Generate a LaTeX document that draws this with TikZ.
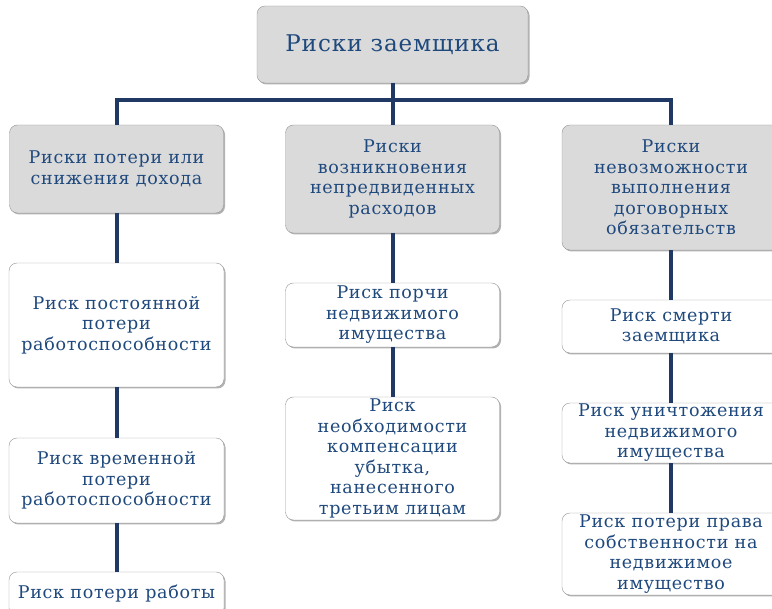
\documentclass[tikz,border=0pt]{standalone}
\usepackage{fontspec}
\setmainfont{DejaVu Serif}[LetterSpace=4]
\usetikzlibrary{shadows}
\definecolor{mblue}{RGB}{31,73,125}
\definecolor{mnavy}{RGB}{31,56,100}
\definecolor{mgray}{RGB}{218,218,218}
\definecolor{mborder}{RGB}{150,150,150}

\begin{document}
\begin{tikzpicture}[x=1pt, y=-1pt,
    box/.style={rectangle, rounded corners=8pt, draw=mborder, fill=white, text=mblue,
        align=center, inner sep=1pt, font=\fontsize{17.5pt}{20.5pt}\selectfont,
        drop shadow={shadow xshift=1.5pt, shadow yshift=-1.5pt, opacity=0.3, fill=black}},
    headbox/.style={box, fill=mgray},
    conn/.style={mnavy, line width=4pt}]
    \useasboundingbox (0, 0) rectangle (772, 609);
    \clip (0, 0) rectangle (772, 609);

    \node[headbox, minimum width=271, minimum height=77, font=\fontsize{23pt}{28pt}\selectfont] (top) at (392.5, 44.5) {Риски заемщика};
    \coordinate (bar) at (392.5, 100);

    \node[headbox, minimum width=214, minimum height=88]  (a1) at (116.5, 169)   {Риски потери или\\снижения дохода};
    \node[box,     minimum width=215, minimum height=124] (a2) at (116.5, 325)   {Риск постоянной\\потери\\работоспособности};
    \node[box,     minimum width=215, minimum height=85]  (a3) at (116.5, 480.5) {Риск временной\\потери\\работоспособности};
    \node[box,     minimum width=215, minimum height=44]  (a4) at (116.5, 594)   {Риск потери работы};

    \node[headbox, minimum width=214, minimum height=108] (b1) at (392.5, 179)   {Риски\\возникновения\\непредвиденных\\расходов};
    \node[box,     minimum width=214, minimum height=64]  (b2) at (392.5, 315)   {Риск порчи\\недвижимого\\имущества};
    \node[box,     minimum width=214, minimum height=123] (b3) at (392.5, 458.5) {Риск\\необходимости\\компенсации\\убытка,\\нанесенного\\третьим лицам};

    \node[headbox, minimum width=218, minimum height=125] (c1) at (671, 187.5) {Риски\\невозможности\\выполнения\\договорных\\обязательств};
    \node[box,     minimum width=218, minimum height=53]  (c2) at (671, 326.5) {Риск смерти\\заемщика};
    \node[box,     minimum width=218, minimum height=60]  (c3) at (671, 433)   {Риск уничтожения\\недвижимого\\имущества};
    \node[box,     minimum width=218, minimum height=82]  (c4) at (671, 554)   {Риск потери права\\собственности на\\недвижимое\\имущество};

    \draw[conn] (top) -- (bar);
    \draw[conn] (a1) |- (bar) -| (c1);
    \draw[conn] (bar) -- (b1);
    \draw[conn] (a1) -- (a2);
    \draw[conn] (a2) -- (a3);
    \draw[conn] (a3) -- (a4);
    \draw[conn] (b1) -- (b2);
    \draw[conn] (b2) -- (b3);
    \draw[conn] (c1) -- (c2);
    \draw[conn] (c2) -- (c3);
    \draw[conn] (c3) -- (c4);
\end{tikzpicture}
\end{document}
